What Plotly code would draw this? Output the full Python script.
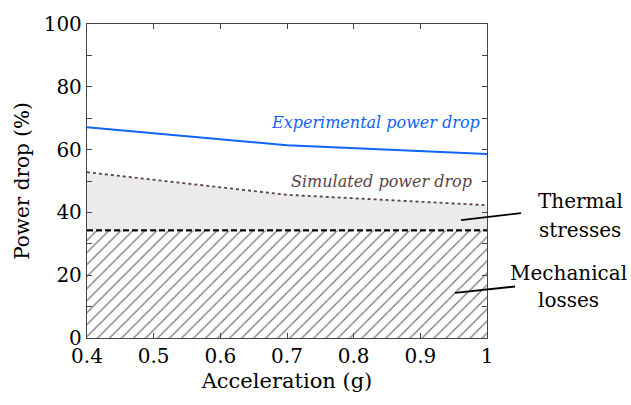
import plotly.graph_objects as go

accel = [0.4, 0.7, 1.0]
experimental = [67.1, 61.4, 58.6]
simulated = [52.8, 45.6, 42.3]
mechanical = [34.3, 34.3, 34.3]

xtick_vals = [0.4, 0.5, 0.6, 0.7, 0.8, 0.9, 1.0]
xtick_text = ["0.4", "0.5", "0.6", "0.7", "0.8", "0.9", "1"]
ytick_vals = [0, 20, 40, 60, 80, 100]

FONT = "DejaVu Serif"

fig = go.Figure()

# Mechanical losses (hatched)
fig.add_trace(go.Scatter(
    x=accel, y=mechanical, mode="lines",
    line=dict(color="black", width=1.8, dash="6px,3px"),
    fill="tozeroy", fillcolor="white",
    fillpattern=dict(shape="/", fgcolor="black", bgcolor="white", size=8.5, solidity=0.16),
    hoverinfo="skip", showlegend=False))

# Thermal stresses (grey band)
fig.add_trace(go.Scatter(
    x=accel, y=simulated, mode="lines",
    line=dict(color="#5a4444", width=1.8, dash="dot"),
    fill="tonexty", fillcolor="#ebebeb",
    hoverinfo="skip", showlegend=False))

# redraw dashed line on top
fig.add_trace(go.Scatter(
    x=accel, y=mechanical, mode="lines",
    line=dict(color="black", width=1.8, dash="6px,3px"),
    hoverinfo="skip", showlegend=False))

# Experimental
fig.add_trace(go.Scatter(
    x=accel, y=experimental, mode="lines",
    line=dict(color="#0f64f5", width=2),
    hoverinfo="skip", showlegend=False))

anns = [
    dict(x=0.992, y=68.7, text="<i>Experimental power drop</i>", xanchor="right", yanchor="middle",
         font=dict(color="#0f64f5", size=16, family=FONT)),
    dict(x=0.98, y=49.9, text="<i>Simulated power drop</i>", xanchor="right", yanchor="middle",
         font=dict(color="#5a4444", size=16, family=FONT)),
]
for a in anns:
    a.update(xref="x", yref="y", showarrow=False)

anns += [
    dict(x=580, y=200, text="Thermal"),
    dict(x=580, y=229, text="stresses"),
    dict(x=568, y=272, text="Mechanical"),
    dict(x=568, y=300, text="losses"),
]

W, H = 631, 405
L, R, T, B = 87, 144, 21, 67
pw, ph = W - L - R, H - T - B

def px2paper(x, y):
    return (x - L) / pw, (H - B - y) / ph

final = anns[:2]
for a in anns[2:]:
    px, py = px2paper(a["x"], a["y"])
    final.append(dict(x=px, y=py, xref="paper", yref="paper", text=a["text"], showarrow=False,
                      xanchor="center", yanchor="middle", font=dict(size=20, family=FONT, color="black")))

shapes = []
for (x0, y0, x1, y1) in [(461, 219, 521, 212), (455, 292.5, 515, 286)]:
    a0, b0 = px2paper(x0, y0)
    a1, b1 = px2paper(x1, y1)
    shapes.append(dict(type="line", xref="paper", yref="paper", x0=a0, y0=b0, x1=a1, y1=b1,
                       line=dict(color="black", width=1.8)))

fig.update_layout(
    width=W, height=H,
    margin=dict(l=L, r=R, t=T, b=B),
    plot_bgcolor="white", paper_bgcolor="white",
    font=dict(family=FONT, size=20, color="black"),
    annotations=final, shapes=shapes,
    xaxis=dict(range=[0.4, 1.0], tickvals=xtick_vals, ticktext=xtick_text,
               ticks="inside", ticklen=5, tickcolor="#444", showline=True, linecolor="#444",
               linewidth=1.3, mirror="ticks", showgrid=False, zeroline=False,
               title=dict(text="Acceleration (g)", font=dict(size=21), standoff=6),
               tickfont=dict(size=20)),
    yaxis=dict(range=[0, 100], tickvals=ytick_vals,
               ticks="inside", ticklen=5, tickcolor="#444", showline=True, linecolor="#444",
               linewidth=1.3, mirror="ticks", showgrid=False, zeroline=False,
               minor=dict(ticks="inside", dtick=10, ticklen=5, tickcolor="#444"),
               title=dict(text="Power drop (%)", font=dict(size=20), standoff=8),
               tickfont=dict(size=20)),
)

fig.write_html("out.html")
